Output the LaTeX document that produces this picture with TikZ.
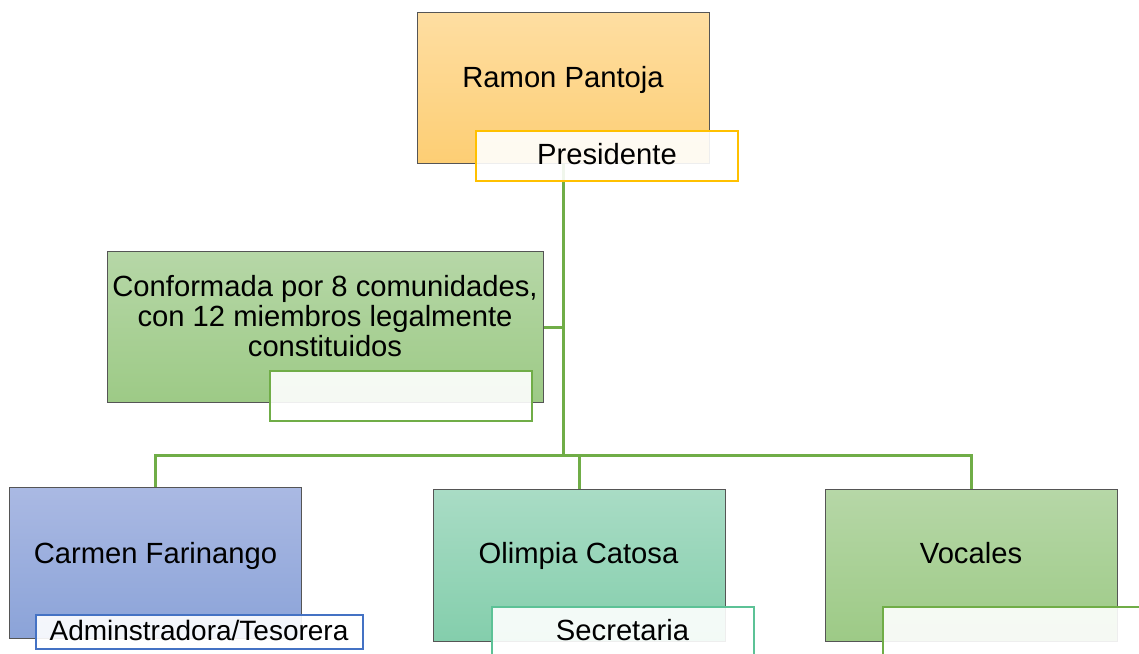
\documentclass[tikz,border=0pt]{standalone}
\usepackage{fontspec}
\setmainfont{Liberation Sans}
\usetikzlibrary{positioning}
\definecolor{OrangeTop}{RGB}{254,222,162}
\definecolor{OrangeBot}{RGB}{253,206,116}
\definecolor{GreenTop}{RGB}{182,215,167}
\definecolor{GreenBot}{RGB}{157,202,134}
\definecolor{BlueTop}{RGB}{170,185,227}
\definecolor{BlueBot}{RGB}{139,163,216}
\definecolor{TealTop}{RGB}{169,220,197}
\definecolor{TealBot}{RGB}{132,206,172}
\definecolor{BoxEdge}{RGB}{85,85,85}
\definecolor{LineGreen}{RGB}{112,173,71}
\definecolor{GoldEdge}{RGB}{255,192,0}
\definecolor{BlueEdge}{RGB}{68,114,196}
\definecolor{TealEdge}{RGB}{92,194,150}

\begin{document}
\begin{tikzpicture}[x=0.5pt,y=-0.5pt,
        bx/.style={draw=BoxEdge,line width=0.5pt,inner sep=0pt,
                   minimum width=146pt,minimum height=75.5pt},
        lb/.style={line width=0.8pt,fill=white,fill opacity=0.9,
                   inner sep=0pt,minimum width=131pt,minimum height=25pt},
        ln/.style={draw=LineGreen,line width=1.5pt},
        tx/.style={anchor=base,inner sep=0pt,font=\fontsize{14.6}{15}\selectfont}
      ]
        \clip (0,0) rectangle (1139,653);
        % Boxes
        \node[bx,top color=OrangeTop,bottom color=OrangeBot] (ramon) at (563,87.5) {};
        \node[bx,top color=GreenTop,bottom color=GreenBot,minimum width=218pt] (conf) at (325,327) {};
        \node[bx,top color=BlueTop,bottom color=BlueBot] (carmen) at (155.5,563) {};
        \node[bx,top color=TealTop,bottom color=TealBot,minimum height=76pt] (olimpia) at (579.5,565) {};
        \node[bx,top color=GreenTop,bottom color=GreenBot,minimum height=76pt] (vocales) at (971,565) {};
        % Connectors
        \coordinate (hub) at (563,455);
        \draw[ln] (ramon.south) -- (hub);
        \draw[ln] (conf.east) -- (conf.east -| hub);
        \draw[ln] (carmen.north) |- (hub) -| (vocales.north);
        \draw[ln] (olimpia.north) -- (olimpia.north |- hub);
        % Role labels
        \node[lb,draw=GoldEdge] (presLb) at (607,156) {};
        \node[lb,draw=LineGreen] (confLb) at (401,396) {};
        \node[lb,draw=BlueEdge,minimum width=163.5pt,minimum height=17pt] (carmenLb) at (199.5,632) {};
        \node[lb,draw=TealEdge] (olimpiaLb) at (623,632) {};
        \node[lb,draw=LineGreen] (vocalesLb) at (1014,632) {};
        % Texts
        \node[tx] (ramonTx) at (563,87) {Ramon Pantoja};
        \node[tx] (presTx) at (607,164) {Presidente};
        \node[tx,align=center] (confTx) at (325,356) {Conformada por 8 comunidades,\\con 12 miembros legalmente\\constituidos};
        \node[tx] (carmenTx) at (155.5,563) {Carmen Farinango};
        \node[tx,font=\fontsize{14}{15}\selectfont] (adminTx) at (199,640) {Adminstradora/Tesorera};
        \node[tx] (olimpiaTx) at (578.5,563) {Olimpia Catosa};
        \node[tx] (secTx) at (622.5,640) {Secretaria};
        \node[tx] (vocalesTx) at (971,563) {Vocales};
      \end{tikzpicture}
\end{document}
